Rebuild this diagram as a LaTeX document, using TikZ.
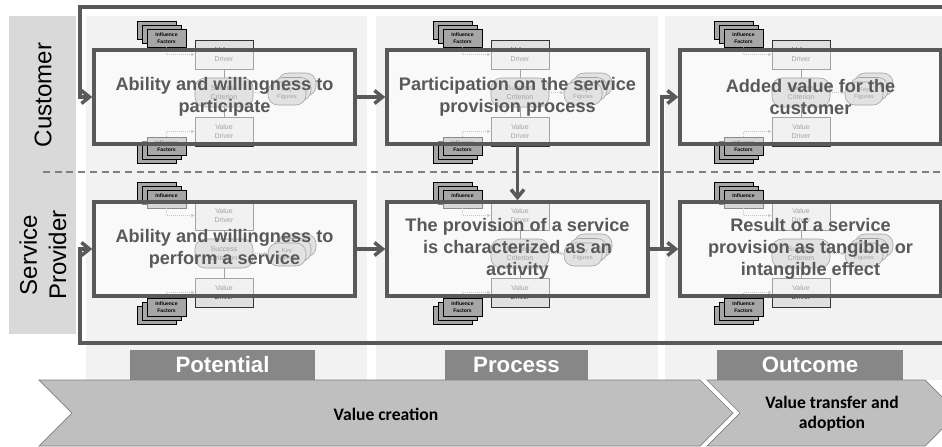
\documentclass[tikz,border=0pt]{standalone}
\usepackage{fontspec}
\setmainfont{Liberation Sans}
\newfontfamily\calfont{Carlito}
\usetikzlibrary{arrows.meta, positioning, calc}
\definecolor{lineGray}{HTML}{595959}
\definecolor{bandGray}{HTML}{D9D9D9}
\definecolor{laneGray}{HTML}{F2F2F2}
\definecolor{dashGray}{HTML}{7F7F7F}
\definecolor{stackGray}{HTML}{A6A6A6}
\definecolor{driverGray}{HTML}{E0E0E0}
\definecolor{critGray}{HTML}{BFBFBF}
\definecolor{edgeGray}{HTML}{333333}
\definecolor{phaseGray}{HTML}{878787}
\definecolor{barGray}{HTML}{BFBFBF}
\definecolor{barEdge}{HTML}{7F7F7F}

\begin{document}
\begin{tikzpicture}[x=0.03cm, y=-0.03cm, >={Straight Barb[length=2.4mm,width=3.9mm]},
    mainbox/.style={draw=lineGray, line width=3pt, fill=white, fill opacity=0.55, text opacity=1,
      text=lineGray, minimum width=7.83cm, minimum height=2.82cm, inner sep=0pt, align=center,
      font=\fontsize{15.5}{18.8}\selectfont\bfseries},
    conn/.style={draw=lineGray, line width=3pt},
    driver/.style={draw=edgeGray, fill=driverGray, line width=0.5pt, minimum width=1.74cm,
      minimum height=0.87cm, inner sep=0pt, align=center, text=edgeGray, font=\fontsize{6}{7}\selectfont},
    crit/.style={driver, fill=critGray, rounded corners=0.3cm},
    keyfig/.style={draw=edgeGray, fill=critGray, line width=0.5pt, rounded corners=0.3cm},
    keynode/.style={keyfig, minimum width=1.14cm, minimum height=0.69cm, inner sep=0pt, align=center,
      text=edgeGray, font=\fontsize{5}{6}\selectfont},
    factor/.style={draw=black, fill=stackGray, line width=0.6pt},
    factornode/.style={factor, minimum width=1.17cm, minimum height=0.54cm, inner sep=0pt, align=center,
      font=\fontsize{4.3}{6}\selectfont\bfseries},
    hint/.style={draw=dashGray, densely dotted, line width=0.7pt, -{Latex[length=1mm,width=1mm]}},
    tie/.style={draw=edgeGray, line width=0.5pt},
    phase/.style={fill=phaseGray, text=white, minimum height=0.9cm, inner sep=0pt,
      font=\fontsize{19}{21}\selectfont\bfseries},
    chevron/.style={fill=barGray, draw=barEdge, line width=0.6pt},
    bartext/.style={align=center, font=\calfont\fontsize{15}{17}\selectfont\bfseries},
    lanelabel/.style={rotate=90, align=center, font=\fontsize{20.5}{25}\selectfont}]

  \useasboundingbox (0,0) rectangle (942,447);
  \clip (0,0) rectangle (942,447);

  \fill[bandGray] (9,16) rectangle (76,334);
  \fill[laneGray] (86,16) rectangle (367,380);
  \fill[laneGray] (376,16) rectangle (658,380);
  \fill[laneGray] (665,16) rectangle (950,380);

  \node[lanelabel] (custlabel) at (43,95) {Customer};
  \node[lanelabel] (servlabel) at (43,255) {Service\\Provider};

  \draw[dashGray, line width=1.3pt, dash pattern=on 6pt off 4pt] (43,172) -- (942,172);

  \foreach \cx/\cy [count=\i] in {195/40, 491/40, 772/40, 195/201, 491/201, 772/201}{
    \begin{scope}[shift={(\cx,\cy)}]
      \draw[factor] (-58,-19) rectangle ++(39,18);
      \draw[factor] (-53,-15) rectangle ++(39,18);
      \node[factornode] (inftop\i) at (-28.5,-2) {Influence\\Factors};
      \draw[factor] (-58,105) rectangle ++(39,18);
      \draw[factor] (-53,101) rectangle ++(39,18);
      \node[factornode] (infbot\i) at (-28.5,106) {Influence\\Factors};

      \node[driver] (top\i) at (29,14.5) {Value\\Driver};
      \node[crit] (crit\i) at (29,52.5) {Success\\Criterion};
      \node[driver] (bot\i) at (29,91.5) {Value\\Driver};

      \draw[keyfig] (83,33) rectangle ++(38,23);
      \draw[keyfig] (78,37.5) rectangle ++(38,23);
      \node[keynode] (key\i) at (92,53.5) {Key\\Figures};

      \draw[tie] (top\i.south) -- (crit\i.north);
      \draw[tie] (crit\i.south) -- (bot\i.north);
      \draw[hint] (inftop\i.south) |- (top\i.west);
      \draw[hint] (infbot\i.north) |- (bot\i.west);
      \draw[hint] (crit\i.east) -- (crit\i.east -| key\i.west);
    \end{scope}
  }

  \node[mainbox] (cust1) at (224.5,97) {Ability and willingness to\\participate};
  \node[mainbox] (cust2) at (517.5,97) {Participation on the service\\provision process};
  \node[mainbox] (cust3) at (810.5,97) {Added value for the\\customer};
  \node[mainbox] (serv1) at (224.5,249) {Ability and willingness to\\perform a service};
  \node[mainbox] (serv2) at (517.5,249) {The provision of a service\\is characterized as an\\activity};
  \node[mainbox] (serv3) at (810.5,249) {Result of a service\\provision as tangible or\\intangible effect};

  \coordinate (topleft) at (80,7);
  \coordinate (botleft) at (80,343);
  \coordinate (rim) at (952,0);
  \coordinate (fork) at (662,249);

  \draw[conn,->] (cust1.east) -- (cust2.west);
  \draw[conn,->] (serv1.east) -- (serv2.west);
  \draw[conn,->] (cust2.south) -- (serv2.north);
  \draw[conn,->] (serv2.east) -- (serv3.west);
  \draw[conn,->] (fork) |- (cust3.west);
  \draw[conn,->] (cust3.east) -- (cust3.east -| rim) |- (topleft) |- (cust1.west);
  \draw[conn,->] (serv3.east) -- (serv3.east -| rim) |- (botleft) |- (serv1.west);

  \node[phase, minimum width=5.55cm] (potential) at (222.5,365) {Potential};
  \node[phase, minimum width=4.29cm] (process) at (516.5,365) {Process};
  \node[phase, minimum width=5.58cm] (outcome) at (810,365) {Outcome};

  \draw[chevron] (39,380) -- (700,380) -- (733,413) -- (700,446) -- (39,446) -- (72,413) -- cycle;
  \draw[chevron] (707,380) -- (925,380) -- (958,413) -- (925,446) -- (707,446) -- (740,413) -- cycle;
  \node[bartext] (creation) at (386,414) {Value creation};
  \node[bartext] (transfer) at (832,414) {Value transfer and\\adoption};
\end{tikzpicture}
\end{document}
